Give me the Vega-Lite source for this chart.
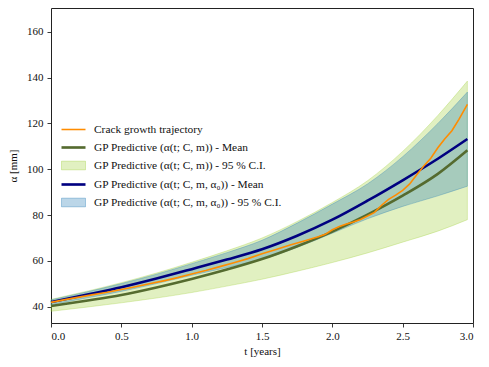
{
  "$schema": "https://vega.github.io/schema/vega-lite/v6.json",
  "width": 422,
  "height": 315,
  "autosize": {"type": "none"},
  "padding": {"left": 51, "top": 8, "right": 16, "bottom": 44},
  "background": "white",
  "config": {
    "font": "Liberation Serif",
    "view": {"stroke": "#222222", "strokeWidth": 1},
    "axis": {
      "grid": false,
      "domain": false,
      "tickColor": "#222222",
      "tickSize": 4,
      "tickWidth": 0.9,
      "labelFont": "Liberation Serif",
      "labelFontSize": 11,
      "labelColor": "#111111",
      "titleFont": "Liberation Serif",
      "titleFontSize": 11,
      "titleFontWeight": "normal",
      "titleColor": "#111111"
    }
  },
  "datasets": {
    "traj": [
      {"series": "Crack growth trajectory", "t": 0.0, "a": 41.9}, {"series": "Crack growth trajectory", "t": 0.1, "a": 43.1},
      {"series": "Crack growth trajectory", "t": 0.2, "a": 44.2}, {"series": "Crack growth trajectory", "t": 0.3, "a": 45.3},
      {"series": "Crack growth trajectory", "t": 0.4, "a": 46.3}, {"series": "Crack growth trajectory", "t": 0.5, "a": 47.5},
      {"series": "Crack growth trajectory", "t": 0.6, "a": 48.7}, {"series": "Crack growth trajectory", "t": 0.7, "a": 50.0},
      {"series": "Crack growth trajectory", "t": 0.8, "a": 51.3}, {"series": "Crack growth trajectory", "t": 0.9, "a": 52.7},
      {"series": "Crack growth trajectory", "t": 1.0, "a": 54.3}, {"series": "Crack growth trajectory", "t": 1.1, "a": 55.8},
      {"series": "Crack growth trajectory", "t": 1.2, "a": 57.5}, {"series": "Crack growth trajectory", "t": 1.3, "a": 59.2},
      {"series": "Crack growth trajectory", "t": 1.4, "a": 61.0}, {"series": "Crack growth trajectory", "t": 1.5, "a": 63.1},
      {"series": "Crack growth trajectory", "t": 1.6, "a": 65.0}, {"series": "Crack growth trajectory", "t": 1.7, "a": 66.9},
      {"series": "Crack growth trajectory", "t": 1.8, "a": 68.7}, {"series": "Crack growth trajectory", "t": 1.9, "a": 70.5},
      {"series": "Crack growth trajectory", "t": 1.95, "a": 71.6}, {"series": "Crack growth trajectory", "t": 2.0, "a": 73.6},
      {"series": "Crack growth trajectory", "t": 2.05, "a": 75.0}, {"series": "Crack growth trajectory", "t": 2.1, "a": 76.1},
      {"series": "Crack growth trajectory", "t": 2.15, "a": 77.0}, {"series": "Crack growth trajectory", "t": 2.2, "a": 78.1},
      {"series": "Crack growth trajectory", "t": 2.25, "a": 79.6}, {"series": "Crack growth trajectory", "t": 2.3, "a": 81.2},
      {"series": "Crack growth trajectory", "t": 2.35, "a": 84.3}, {"series": "Crack growth trajectory", "t": 2.4, "a": 86.9},
      {"series": "Crack growth trajectory", "t": 2.45, "a": 88.7}, {"series": "Crack growth trajectory", "t": 2.5, "a": 90.8},
      {"series": "Crack growth trajectory", "t": 2.55, "a": 93.6}, {"series": "Crack growth trajectory", "t": 2.6, "a": 97.6},
      {"series": "Crack growth trajectory", "t": 2.65, "a": 101.4}, {"series": "Crack growth trajectory", "t": 2.7, "a": 104.8},
      {"series": "Crack growth trajectory", "t": 2.75, "a": 109.4}, {"series": "Crack growth trajectory", "t": 2.8, "a": 113.3},
      {"series": "Crack growth trajectory", "t": 2.85, "a": 116.8}, {"series": "Crack growth trajectory", "t": 2.9, "a": 121.8},
      {"series": "Crack growth trajectory", "t": 2.96, "a": 128.3}
    ],
    "means": [
      {"series": "GP Predictive (α(t; C, m)) - Mean", "t": 0.0, "a": 40.3},
      {"series": "GP Predictive (α(t; C, m)) - Mean", "t": 0.25, "a": 42.6},
      {"series": "GP Predictive (α(t; C, m)) - Mean", "t": 0.5, "a": 45.1},
      {"series": "GP Predictive (α(t; C, m)) - Mean", "t": 0.75, "a": 48.4},
      {"series": "GP Predictive (α(t; C, m)) - Mean", "t": 1.0, "a": 52.1},
      {"series": "GP Predictive (α(t; C, m)) - Mean", "t": 1.25, "a": 56.2},
      {"series": "GP Predictive (α(t; C, m)) - Mean", "t": 1.5, "a": 60.8},
      {"series": "GP Predictive (α(t; C, m)) - Mean", "t": 1.75, "a": 66.4},
      {"series": "GP Predictive (α(t; C, m)) - Mean", "t": 2.0, "a": 72.8},
      {"series": "GP Predictive (α(t; C, m)) - Mean", "t": 2.25, "a": 80.2},
      {"series": "GP Predictive (α(t; C, m)) - Mean", "t": 2.5, "a": 88.5},
      {"series": "GP Predictive (α(t; C, m)) - Mean", "t": 2.75, "a": 98.0},
      {"series": "GP Predictive (α(t; C, m)) - Mean", "t": 2.96, "a": 108.3},
      {"series": "GP Predictive (α(t; C, m, α₀)) - Mean", "t": 0.0, "a": 42.0},
      {"series": "GP Predictive (α(t; C, m, α₀)) - Mean", "t": 0.25, "a": 45.2},
      {"series": "GP Predictive (α(t; C, m, α₀)) - Mean", "t": 0.5, "a": 48.5},
      {"series": "GP Predictive (α(t; C, m, α₀)) - Mean", "t": 0.75, "a": 52.3},
      {"series": "GP Predictive (α(t; C, m, α₀)) - Mean", "t": 1.0, "a": 56.4},
      {"series": "GP Predictive (α(t; C, m, α₀)) - Mean", "t": 1.25, "a": 60.6},
      {"series": "GP Predictive (α(t; C, m, α₀)) - Mean", "t": 1.5, "a": 65.1},
      {"series": "GP Predictive (α(t; C, m, α₀)) - Mean", "t": 1.75, "a": 71.0},
      {"series": "GP Predictive (α(t; C, m, α₀)) - Mean", "t": 2.0, "a": 78.0},
      {"series": "GP Predictive (α(t; C, m, α₀)) - Mean", "t": 2.25, "a": 86.3},
      {"series": "GP Predictive (α(t; C, m, α₀)) - Mean", "t": 2.5, "a": 95.2},
      {"series": "GP Predictive (α(t; C, m, α₀)) - Mean", "t": 2.75, "a": 104.6},
      {"series": "GP Predictive (α(t; C, m, α₀)) - Mean", "t": 2.96, "a": 113.2}
    ],
    "ci": [
      {"series": "GP Predictive (α(t; C, m)) - 95 % C.I.", "t": 0.0, "lo": 38.0, "hi": 43.2},
      {"series": "GP Predictive (α(t; C, m)) - 95 % C.I.", "t": 0.25, "lo": 39.8, "hi": 46.7},
      {"series": "GP Predictive (α(t; C, m)) - 95 % C.I.", "t": 0.5, "lo": 41.7, "hi": 50.5},
      {"series": "GP Predictive (α(t; C, m)) - 95 % C.I.", "t": 0.75, "lo": 43.8, "hi": 54.7},
      {"series": "GP Predictive (α(t; C, m)) - 95 % C.I.", "t": 1.0, "lo": 46.2, "hi": 59.4},
      {"series": "GP Predictive (α(t; C, m)) - 95 % C.I.", "t": 1.25, "lo": 49.0, "hi": 64.4},
      {"series": "GP Predictive (α(t; C, m)) - 95 % C.I.", "t": 1.5, "lo": 52.0, "hi": 70.0},
      {"series": "GP Predictive (α(t; C, m)) - 95 % C.I.", "t": 1.75, "lo": 55.5, "hi": 77.2},
      {"series": "GP Predictive (α(t; C, m)) - 95 % C.I.", "t": 2.0, "lo": 59.3, "hi": 85.5},
      {"series": "GP Predictive (α(t; C, m)) - 95 % C.I.", "t": 2.25, "lo": 63.5, "hi": 95.0},
      {"series": "GP Predictive (α(t; C, m)) - 95 % C.I.", "t": 2.5, "lo": 68.2, "hi": 107.8},
      {"series": "GP Predictive (α(t; C, m)) - 95 % C.I.", "t": 2.75, "lo": 73.0, "hi": 123.5},
      {"series": "GP Predictive (α(t; C, m)) - 95 % C.I.", "t": 2.96, "lo": 78.0, "hi": 138.5},
      {"series": "GP Predictive (α(t; C, m, α₀)) - 95 % C.I.", "t": 0.0, "lo": 40.8, "hi": 43.0},
      {"series": "GP Predictive (α(t; C, m, α₀)) - 95 % C.I.", "t": 0.25, "lo": 43.8, "hi": 46.4},
      {"series": "GP Predictive (α(t; C, m, α₀)) - 95 % C.I.", "t": 0.5, "lo": 46.7, "hi": 50.1},
      {"series": "GP Predictive (α(t; C, m, α₀)) - 95 % C.I.", "t": 0.75, "lo": 50.1, "hi": 54.2},
      {"series": "GP Predictive (α(t; C, m, α₀)) - 95 % C.I.", "t": 1.0, "lo": 53.7, "hi": 58.8},
      {"series": "GP Predictive (α(t; C, m, α₀)) - 95 % C.I.", "t": 1.25, "lo": 57.1, "hi": 63.6},
      {"series": "GP Predictive (α(t; C, m, α₀)) - 95 % C.I.", "t": 1.5, "lo": 60.7, "hi": 69.0},
      {"series": "GP Predictive (α(t; C, m, α₀)) - 95 % C.I.", "t": 1.75, "lo": 65.9, "hi": 76.5},
      {"series": "GP Predictive (α(t; C, m, α₀)) - 95 % C.I.", "t": 2.0, "lo": 72.1, "hi": 84.8},
      {"series": "GP Predictive (α(t; C, m, α₀)) - 95 % C.I.", "t": 2.25, "lo": 78.4, "hi": 93.6},
      {"series": "GP Predictive (α(t; C, m, α₀)) - 95 % C.I.", "t": 2.5, "lo": 83.8, "hi": 105.5},
      {"series": "GP Predictive (α(t; C, m, α₀)) - 95 % C.I.", "t": 2.75, "lo": 88.4, "hi": 120.0},
      {"series": "GP Predictive (α(t; C, m, α₀)) - 95 % C.I.", "t": 2.96, "lo": 92.6, "hi": 133.7}
    ]
  },
  "layer": [
    {
      "data": {"name": "ci"},
      "mark": {"type": "area", "fillOpacity": 0.3, "strokeOpacity": 0.3, "strokeWidth": 1, "interpolate": "monotone"},
      "encoding": {
        "x": {"field": "t", "type": "quantitative", "scale": {"domain": [0, 3], "nice": false, "zero": false},
              "axis": {"values": [0, 0.5, 1, 1.5, 2, 2.5, 3], "format": ".1f", "title": "t [years]", "labelPadding": 3, "titlePadding": 4}},
        "y": {"field": "lo", "type": "quantitative", "scale": {"domain": [32.9, 170.4], "nice": false, "zero": false},
              "axis": {"values": [40, 60, 80, 100, 120, 140, 160], "format": "d", "title": "α [mm]", "labelPadding": 4, "titlePadding": 8}},
        "y2": {"field": "hi"},
        "color": {
          "field": "series", "type": "nominal",
          "scale": {
            "domain": ["Crack growth trajectory", "GP Predictive (α(t; C, m)) - Mean", "GP Predictive (α(t; C, m)) - 95 % C.I.", "GP Predictive (α(t; C, m, α₀)) - Mean", "GP Predictive (α(t; C, m, α₀)) - 95 % C.I."],
            "range": ["#ff8c00", "#556b2f", "#9acd32", "#000080", "#1f77b4"]
          },
          "legend": {
            "title": null,
            "orient": "none",
            "legendX": 10,
            "legendY": 109,
            "padding": 0,
            "symbolSize": 300,
            "rowPadding": -0.7,
            "labelOffset": 8,
            "labelFont": "Liberation Serif",
            "labelFontSize": 11.4,
            "labelColor": "#111111",
            "labelLimit": 0,
            "encode": {
              "symbols": {
                "update": {
                  "shape": {"signal": "indexof(datum.value, 'C.I.') >= 0 ? 'M-1,-0.36H1V0.36H-1Z' : (indexof(datum.value, 'Crack') >= 0 ? 'M-1,-0.065H1V0.065H-1Z' : 'M-1,-0.11H1V0.11H-1Z')"},
                  "size": {"value": 576},
                  "fill": {"scale": "color", "field": "value"},
                  "fillOpacity": {"signal": "indexof(datum.value, 'C.I.') >= 0 ? 0.3 : 1"},
                  "stroke": {"scale": "color", "field": "value"},
                  "strokeOpacity": {"signal": "indexof(datum.value, 'C.I.') >= 0 ? 0.35 : 0"},
                  "strokeWidth": {"value": 1},
                  "opacity": {"value": 1}
                }
              }
            }
          }
        },
        "stroke": {
          "field": "series", "type": "nominal",
          "scale": {
            "domain": ["GP Predictive (α(t; C, m)) - 95 % C.I.", "GP Predictive (α(t; C, m, α₀)) - 95 % C.I."],
            "range": ["#9acd32", "#1f77b4"]
          },
          "legend": null
        }
      }
    },
    {
      "data": {"name": "means"},
      "mark": {"type": "line", "strokeWidth": 2.6, "interpolate": "monotone"},
      "encoding": {
        "x": {"field": "t", "type": "quantitative"},
        "y": {"field": "a", "type": "quantitative"},
        "color": {"field": "series", "type": "nominal"}
      }
    },
    {
      "data": {"name": "traj"},
      "mark": {"type": "line", "strokeWidth": 1.6},
      "encoding": {
        "x": {"field": "t", "type": "quantitative"},
        "y": {"field": "a", "type": "quantitative"},
        "color": {"field": "series", "type": "nominal"}
      }
    }
  ]
}
